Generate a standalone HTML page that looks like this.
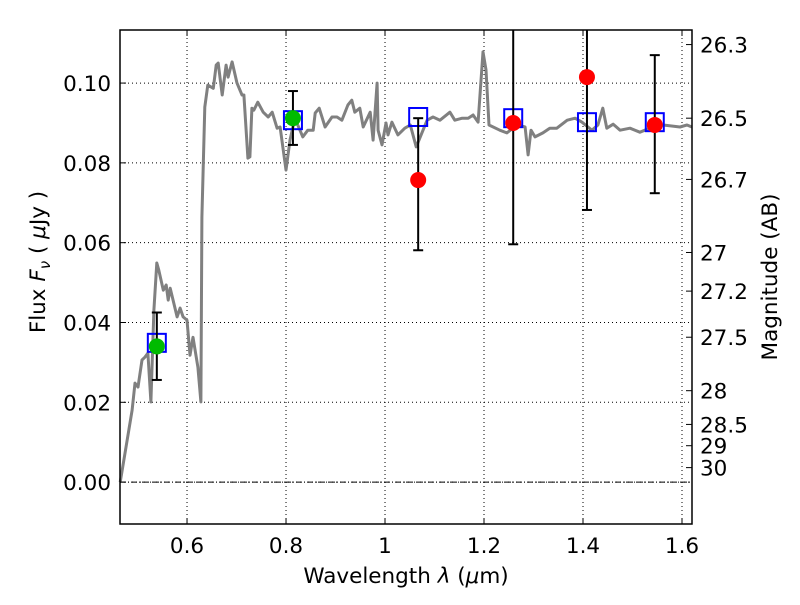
<!DOCTYPE html>
<html><head><meta charset="utf-8"><style>
body{margin:0;background:#fff;}
svg text{font-family:"DejaVu Sans","Liberation Sans",sans-serif;fill:#000;}
</style></head><body>
<svg id="chart" width="800" height="600" viewBox="0 0 800 600" xmlns="http://www.w3.org/2000/svg">
<rect width="800" height="600" fill="#fff"/>
<g id="grid"></g>
<g id="spec"></g>
<g id="marks"></g>
<g id="axes"></g>
</svg>
<script>
const specWl=[0.465,0.469,0.489,0.495,0.501,0.509,0.515,0.521,0.527,0.533,0.539,0.543,0.552,0.558,0.562,0.566,0.580,0.586,0.592,0.600,0.606,0.612,0.622,0.628,0.630,0.636,0.642,0.653,0.659,0.663,0.671,0.679,0.683,0.691,0.701,0.711,0.715,0.723,0.727,0.731,0.735,0.743,0.754,0.764,0.772,0.782,0.788,0.800,0.808,0.818,0.834,0.844,0.855,0.859,0.867,0.879,0.893,0.903,0.913,0.925,0.933,0.939,0.949,0.956,0.970,0.976,0.984,0.986,0.994,1.002,1.006,1.014,1.026,1.040,1.051,1.063,1.085,1.097,1.111,1.131,1.141,1.156,1.168,1.178,1.188,1.198,1.204,1.210,1.232,1.246,1.267,1.283,1.289,1.295,1.303,1.319,1.333,1.347,1.368,1.384,1.398,1.418,1.430,1.440,1.448,1.461,1.475,1.495,1.515,1.535,1.562,1.596,1.610,1.620];
const specFlux=[0.0,0.0030,0.0180,0.0248,0.0238,0.0306,0.0313,0.0323,0.0201,0.0431,0.0549,0.0531,0.0481,0.0494,0.0456,0.0486,0.0414,0.0436,0.0414,0.0406,0.0318,0.0363,0.0288,0.0201,0.0664,0.0940,0.0995,0.0987,0.1045,0.1050,0.0970,0.1045,0.1015,0.1053,0.1000,0.0970,0.0970,0.0812,0.0815,0.0937,0.0932,0.0952,0.0927,0.0915,0.0927,0.0887,0.0890,0.0782,0.0857,0.0912,0.0865,0.0882,0.0882,0.0925,0.0937,0.0890,0.0915,0.0915,0.0907,0.0945,0.0957,0.0927,0.0937,0.0890,0.0927,0.0857,0.1000,0.0882,0.0845,0.0900,0.0870,0.0902,0.0870,0.0887,0.0895,0.0840,0.0907,0.0915,0.0907,0.0927,0.0907,0.0912,0.0912,0.0920,0.0902,0.1078,0.1033,0.0895,0.0882,0.0875,0.0895,0.0890,0.0820,0.0882,0.0865,0.0875,0.0887,0.0887,0.0907,0.0912,0.0902,0.0882,0.0895,0.0937,0.0887,0.0897,0.0882,0.0887,0.0877,0.0887,0.0895,0.0890,0.0895,0.0890];
const sqWl=[0.539,0.814,1.067,1.259,1.408,1.545];
const sqFlux=[0.0349,0.0907,0.0915,0.0912,0.0902,0.0902];
const greenWl=[0.539,0.814];
const greenFlux=[0.0340,0.0912];
const greenLo=[0.0256,0.0845];
const greenHi=[0.0425,0.0980];
const redWl=[1.067,1.259,1.408,1.545];
const redFlux=[0.0757,0.0900,0.1015,0.0895];
const redLo=[0.0581,0.0596,0.0682,0.0724];
const redHi=[0.0912,0.1200,0.1200,0.1070];
const xTicks=[0.6,0.8,1.0,1.2,1.4,1.6];
const xTickLabels=["0.6","0.8","1","1.2","1.4","1.6"];
const yTicks=[0,0.02,0.04,0.06,0.08,0.10];
const yTickLabels=["0.00","0.02","0.04","0.06","0.08","0.10"];
const magTicks=[26.3,26.5,26.7,27,27.2,27.5,28,28.5,29,30];

const L=120,R=692,T=30,B=524;
const xMin=0.4646,xMax=1.6202,yMin=-0.0105,yMax=0.1133;
const X=v=>L+(v-xMin)/(xMax-xMin)*(R-L);
const Y=v=>T+(yMax-v)/(yMax-yMin)*(B-T);
const NS="http://www.w3.org/2000/svg";
function mk(parent,tag,attrs,text){const e=document.createElementNS(NS,tag);for(const k in attrs)e.setAttribute(k,attrs[k]);if(text!==undefined)e.textContent=text;parent.appendChild(e);return e;}
const grid=document.getElementById('grid'),spec=document.getElementById('spec'),marks=document.getElementById('marks'),axes=document.getElementById('axes');
const FS=21.5;

xTicks.forEach((t,i)=>{
  const g=mk(grid,'line',{x1:X(t),x2:X(t),y1:T,y2:B,stroke:'#000','stroke-width':1,'stroke-dasharray':'1,3'});
  
  
  mk(axes,'line',{x1:X(t),x2:X(t),y1:B,y2:B-6,stroke:'#000'});
  mk(axes,'line',{x1:X(t),x2:X(t),y1:T,y2:T+6,stroke:'#000'});
  const lb=mk(axes,'text',{x:X(t),y:B+29,'text-anchor':'middle','font-size':FS},xTickLabels[i]);
  
  
});
yTicks.forEach((t,i)=>{
  const g=mk(grid,'line',{x1:L,x2:R,y1:Y(t),y2:Y(t),stroke:'#000','stroke-width':1,'stroke-dasharray':'1,3'});
  
  
  mk(axes,'line',{x1:L,x2:L+6,y1:Y(t),y2:Y(t),stroke:'#000'});
  const lb=mk(axes,'text',{x:L-9,y:Y(t)+8,'text-anchor':'end','font-size':FS},yTickLabels[i]);
  
  
});
const zl=mk(grid,'line',{x1:L,x2:R,y1:Y(0),y2:Y(0),stroke:'#000','stroke-width':1,'stroke-dasharray':'6,2,1,2'});



let d=specWl.map((w,i)=>(i?'L':'M')+X(w).toFixed(1)+','+Y(specFlux[i]).toFixed(1)).join('');
const sp=mk(spec,'path',{d:d,fill:'none',stroke:'#808080','stroke-width':3,'stroke-linejoin':'round'});



function errbar(w,lo,hi){
  const g=mk(marks,'g',{});
  
  
  const y1=Math.max(Y(hi),T),y2=Y(lo);
  mk(g,'line',{x1:X(w),x2:X(w),y1:y1,y2:y2,stroke:'#000','stroke-width':2});
  if(Y(hi)>=T) mk(g,'line',{x1:X(w)-5,x2:X(w)+5,y1:y1,y2:y1,stroke:'#000','stroke-width':2});
  mk(g,'line',{x1:X(w)-5,x2:X(w)+5,y1:y2,y2:y2,stroke:'#000','stroke-width':2});
}
sqWl.forEach((w,i)=>{
  const s=mk(marks,'rect',{x:X(w)-9,y:Y(sqFlux[i])-9,width:18,height:18,fill:'none',stroke:'#0000ff','stroke-width':2});
  
  
});
greenWl.forEach((w,i)=>{
  errbar(w,greenLo[i],greenHi[i]);
  const c=mk(marks,'circle',{cx:X(w),cy:Y(greenFlux[i]),r:8,fill:'#00bb00'});
  
  
});
redWl.forEach((w,i)=>{
  errbar(w,redLo[i],redHi[i]);
  const c=mk(marks,'circle',{cx:X(w),cy:Y(redFlux[i]),r:8,fill:'#ff0000'});
  
  
});

magTicks.forEach(m=>{
  const f=Math.pow(10,(23.9-m)/2.5);
  const y=Y(f);
  mk(axes,'line',{x1:R,x2:R-6,y1:y,y2:y,stroke:'#000'});
  const lb=mk(axes,'text',{x:R+8,y:y+8,'font-size':FS},String(m));
  
  
});

const fr=mk(axes,'rect',{x:L,y:T,width:R-L,height:B-T,fill:'none',stroke:'#000','stroke-width':1.5});



const xt=mk(axes,'text',{x:(L+R)/2,y:583,'text-anchor':'middle','font-size':FS},'');


xt.innerHTML='Wavelength  <tspan font-style="italic">λ</tspan> (<tspan font-style="italic">μ</tspan>m)';
const yt=mk(axes,'text',{x:0,y:0,'text-anchor':'middle','font-size':FS,transform:'translate(45,262) rotate(-90)'},'');


yt.innerHTML='Flux  <tspan font-style="italic">F</tspan><tspan font-style="italic" font-size="15" dy="5">ν</tspan><tspan dy="-5">  ( </tspan><tspan font-style="italic">μ</tspan>Jy )';
const rt=mk(axes,'text',{x:0,y:0,'text-anchor':'middle','font-size':FS,transform:'translate(777,277) rotate(-90)'},'Magnitude (AB)');


</script>
</body></html>
